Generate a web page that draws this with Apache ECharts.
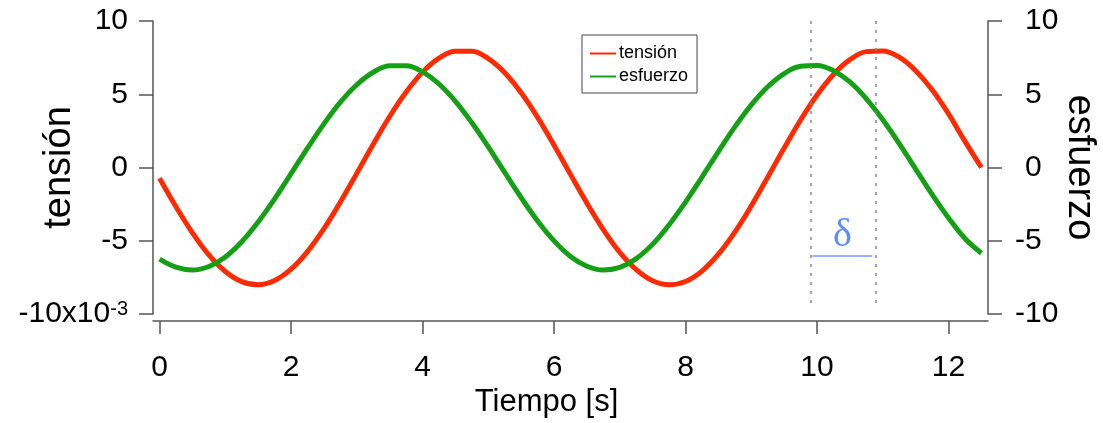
<!DOCTYPE html>
<html>
<head>
<meta charset="utf-8">
<script src="https://cdn.jsdelivr.net/npm/echarts@6/dist/echarts.min.js"></script>
<style>
  html, body { margin: 0; padding: 0; background: #fff; }
  #chart { width: 1103px; height: 423px; }
</style>
</head>
<body>
<div id="chart"></div>
<script>
// Time samples (s)
const tiempo = [0, 0.25, 0.5, 0.75, 1, 1.25, 1.5, 1.75, 2, 2.25, 2.5, 2.75, 3, 3.25, 3.5, 3.75, 4, 4.25, 4.5, 4.75, 5, 5.25, 5.5, 5.75, 6, 6.25, 6.5, 6.75, 7, 7.25, 7.5, 7.75, 8, 8.25, 8.5, 8.75, 9, 9.25, 9.5, 9.75, 10, 10.25, 10.5, 10.75, 11, 11.25, 11.5, 11.75, 12, 12.25, 12.5];
// Strain (left axis, x10^-3)
const tension = [-0.73, -2.68, -4.46, -5.97, -7.10, -7.79, -8.00, -7.71, -6.94, -5.74, -4.18, -2.36, -0.40, 1.59, 3.48, 5.15, 6.51, 7.46, 7.94, 7.93, 7.43, 6.47, 5.10, 3.42, 1.52, -0.47, -2.43, -4.24, -5.79, -6.97, -7.73, -8.00, -7.78, -7.07, -5.92, -4.41, -2.62, -0.66, 1.33, 3.24, 4.95, 6.35, 7.36, 7.91, 7.96, 7.53, 6.61, 5.30, 3.66, 1.78, 0.0];
// Stress (right axis)
const esfuerzo = [-6.25, -6.80, -7.00, -6.76, -6.11, -5.07, -3.72, -2.14, -0.42, 1.32, 2.98, 4.46, 5.65, 6.50, 6.94, 6.95, 6.53, 5.70, 4.52, 3.05, 1.40, -0.34, -2.06, -3.65, -5.01, -6.07, -6.74, -7.00, -6.82, -6.22, -5.23, -3.91, -2.36, -0.65, 1.09, 2.77, 4.27, 5.51, 6.41, 6.91, 6.97, 6.61, 5.84, 4.69, 3.26, 1.63, -0.11, -1.84, -3.44, -4.85, -5.85];
// Tick labels
const xTicks = [0, 2, 4, 6, 8, 10, 12];
// Peak times used for the phase-lag markers
const picoEsfuerzo = 9.9;
const picoTension = 10.9;

const font = 'Liberation Sans, Arial, sans-serif';
const axisGray = '#555555';

const pairs = (xs, ys) => xs.map((x, i) => [x, ys[i]]);

const chart = echarts.init(document.getElementById('chart'), null, { renderer: 'canvas' });

chart.setOption({
  animation: false,
  backgroundColor: '#ffffff',
  textStyle: { fontFamily: font },
  grid: { left: 153, right: 115, top: 21, bottom: 109, containLabel: false, outerBoundsMode: 'none' },
  legend: {
    orient: 'vertical',
    left: 582,
    top: 35,
    padding: [9, 9, 7, 8],
    borderColor: '#444444',
    borderWidth: 1,
    icon: 'rect',
    itemWidth: 26,
    itemHeight: 2,
    itemGap: 4,
    textStyle: { fontFamily: font, fontSize: 18, color: '#000', lineHeight: 19, padding: [0, 0, 0, -2] },
    data: ['tensión', 'esfuerzo']
  },
  xAxis: {
    type: 'value',
    min: -0.1,
    max: 12.6,
    offset: 7,
    name: 'Tiempo [s]',
    nameLocation: 'middle',
    nameGap: 66,
    nameMoveOverlap: false,
    nameTextStyle: { fontFamily: font, fontSize: 31, color: '#000', padding: [0, 48, 0, 0] },
    splitLine: { show: false },
    axisLine: { show: true, onZero: false, lineStyle: { color: axisGray, width: 1.5 } },
    axisTick: { show: true, inside: false, length: 13, customValues: xTicks, lineStyle: { color: axisGray, width: 1.5 } },
    axisLabel: { customValues: xTicks, margin: 32, fontSize: 30, fontFamily: font, color: '#000' }
  },
  yAxis: [
    {
      type: 'value',
      position: 'left',
      min: -10,
      max: 10,
      interval: 5,
      name: 'tensión',
      nameLocation: 'middle',
      nameRotate: 90,
      nameGap: 74,
      nameMoveOverlap: false,
      nameTextStyle: { fontFamily: font, fontSize: 38, color: '#000' },
      splitLine: { show: false },
      axisLine: { show: true, onZero: false, lineStyle: { color: axisGray, width: 1.5 } },
      axisTick: { show: true, length: 14, lineStyle: { color: axisGray, width: 1.5 } },
      axisLabel: {
        margin: 25,
        fontSize: 30,
        fontFamily: font,
        color: '#000',
        formatter: v => v === -10 ? '{b|-10x10}{s|-3}' : String(v),
        rich: {
          b: { fontSize: 30, fontFamily: font, color: '#000', lineHeight: 30, padding: [14, 0, 0, 0], verticalAlign: 'bottom' },
          s: { fontSize: 20, fontFamily: font, color: '#000', lineHeight: 20, verticalAlign: 'top' }
        }
      }
    },
    {
      type: 'value',
      position: 'right',
      min: -10,
      max: 10,
      interval: 5,
      name: 'esfuerzo',
      nameLocation: 'middle',
      nameRotate: -90,
      nameGap: 72,
      nameMoveOverlap: false,
      nameTextStyle: { fontFamily: font, fontSize: 38, color: '#000' },
      splitLine: { show: false },
      axisLine: { show: true, onZero: false, lineStyle: { color: axisGray, width: 1.5 } },
      axisTick: { show: true, length: 14, lineStyle: { color: axisGray, width: 1.5 } },
      axisLabel: {
        margin: 27,
        fontSize: 30,
        fontFamily: font,
        color: '#000',
        align: 'left',
        formatter: v => v < 0 ? String(v) : '{p| }' + v,
        rich: {
          p: { width: 10, fontSize: 30, fontFamily: font }
        }
      }
    }
  ],
  series: [
    {
      name: 'tensión',
      type: 'line',
      yAxisIndex: 0,
      data: pairs(tiempo, tension),
      smooth: 0.4,
      showSymbol: false,
      symbol: 'none',
      color: '#ff2a00',
      lineStyle: { color: '#ff2a00', width: 5, join: 'round', cap: 'butt' },
      markLine: {
        silent: true,
        symbol: 'none',
        label: { show: false },
        lineStyle: { color: '#888888', width: 1.5, type: [3, 6] },
        data: [
          [{ coord: [picoEsfuerzo, 10] }, { coord: [picoEsfuerzo, -9.5] }],
          [{ coord: [picoTension, 10] }, { coord: [picoTension, -9.5] }]
        ]
      }
    },
    {
      name: 'esfuerzo',
      type: 'line',
      yAxisIndex: 1,
      data: pairs(tiempo, esfuerzo),
      smooth: 0.4,
      showSymbol: false,
      symbol: 'none',
      color: '#14a014',
      lineStyle: { color: '#14a014', width: 5, join: 'round', cap: 'butt' },
      markLine: {
        silent: true,
        symbol: 'none',
        lineStyle: { color: '#6f98ff', width: 1.5, type: 'solid' },
        label: {
          show: true,
          position: 'middle',
          formatter: 'δ',
          distance: 0,
          fontFamily: 'Liberation Serif, Times New Roman, serif',
          fontSize: 40,
          color: '#5f8cff'
        },
        data: [
          [{ coord: [9.93, -6] }, { coord: [10.84, -6] }]
        ]
      }
    }
  ]
});
</script>
</body>
</html>
